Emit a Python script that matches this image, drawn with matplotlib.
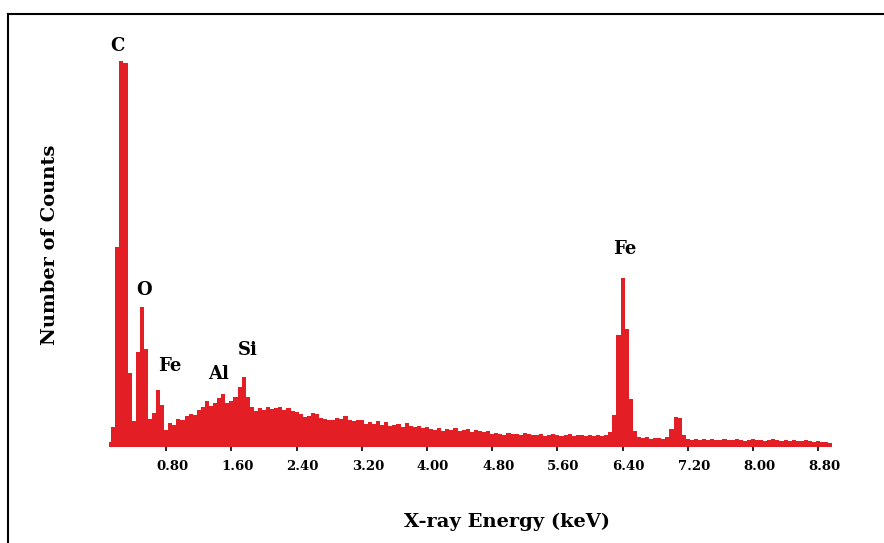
import numpy as np
import matplotlib
matplotlib.use("Agg")
import matplotlib.pyplot as plt
from matplotlib.lines import Line2D

# EDS spectrum, 0.05 keV channels starting at 0.10 keV (counts in arbitrary units)
E_START = 0.10
E_STEP = 0.05
counts = [
    5, 20, 200, 386, 384, 74, 26, 95, 140, 98,            # 0.10 - 0.55
    28, 34, 57, 42, 17, 24, 22, 28, 27, 31,               # 0.60 - 1.05
    33, 32, 37, 40, 46, 41, 44, 49, 53, 44,               # 1.10 - 1.55
    46, 50, 60, 70, 50, 40, 36, 39, 37, 40,               # 1.60 - 2.05
    38, 39, 40, 37, 39, 36, 35, 33, 30, 31,               # 2.10 - 2.55
    34, 33, 29, 28, 27, 27, 29, 28, 31, 27,               # 2.60 - 3.05
    26, 27, 27, 23, 25, 23, 26, 22, 25, 21,               # 3.10 - 3.55
    22, 23, 20, 24, 21, 20, 21, 19, 20, 18,               # 3.60 - 4.05
    17, 19, 16, 18, 17, 19, 16, 17, 18, 15,               # 4.10 - 4.55
    17, 16, 15, 16, 13, 14, 13, 12, 14, 13,               # 4.60 - 5.05
    13, 12, 14, 13, 12, 12, 13, 11, 12, 13,               # 5.10 - 5.55
    12, 11, 12, 13, 11, 12, 12, 11, 12, 11,               # 5.60 - 6.05
    12, 11, 12, 15, 32, 112, 169, 118, 48, 16,            # 6.10 - 6.55
    10, 9, 10, 8, 9, 9, 8, 10, 18, 30,                    # 6.60 - 7.05
    29, 12, 8, 7, 8, 7, 8, 7, 8, 7,                       # 7.10 - 7.55
    7, 8, 7, 7, 8, 7, 6, 7, 8, 7,                         # 7.60 - 8.05
    7, 6, 7, 8, 7, 6, 7, 6, 7, 6,                         # 8.10 - 8.55
    6, 7, 6, 5, 6, 5, 5, 4,                               # 8.60 - 8.95
]
edges = E_START - E_STEP / 2 + E_STEP * np.arange(len(counts) + 1)

tick_pos = [0.80, 1.60, 2.40, 3.20, 4.00, 4.80, 5.60, 6.40, 7.20, 8.00, 8.80]
tick_lab = ["0.80", "1.60", "2.40", "3.20", "4.00", "4.80",
            "5.60", "6.40", "7.20", "8.00", "8.80"]

# peak labels: (text, energy, count)
peaks = [("C", 0.20, 401), ("O", 0.53, 157), ("Fe", 0.85, 81),
         ("Al", 1.44, 73), ("Si", 1.80, 97), ("Fe", 6.43, 198)]

RED = "#e31e24"
SERIF = ["DejaVu Serif"]

fig = plt.figure(figsize=(8.84, 5.43), dpi=100)
ax = fig.add_axes([0.1235, 0.1768, 0.8205, 0.7366])

ax.stairs(counts, edges, fill=True, color=RED, linewidth=0.6)
ax.set_xlim(0.10, 9.00)
ax.set_ylim(0, 400)

for s in ax.spines.values():
    s.set_visible(False)
ax.set_yticks([])
ax.set_xticks(tick_pos)
ax.set_xticklabels([])
ax.tick_params(axis="x", length=3, width=1.2, color="black", direction="out")

for x, lab in zip(tick_pos, tick_lab):
    ax.annotate(lab, (x, 0), xycoords="data", xytext=(6, -20),
                textcoords="offset pixels", ha="center", va="center",
                fontsize=9.5, fontweight="bold", family=SERIF)

for txt, x, y in peaks:
    ax.text(x, y, txt, ha="center", va="center", fontsize=13,
            fontweight="bold", family=SERIF, clip_on=False)

fig.text(50 / 884, 1 - 245 / 543, "Number of Counts", rotation=90,
         ha="center", va="center", fontsize=14, fontweight="bold", family=SERIF)
fig.text(507 / 884, 1 - 522 / 543, "X-ray Energy (keV)", ha="center",
         va="center", fontsize=14, fontweight="bold", family=SERIF)

# scanned frame: left and top edges only
fig.add_artist(Line2D([8 / 884, 8 / 884], [0, 1 - 14 / 543],
                      transform=fig.transFigure, color="black", lw=1.5))
fig.add_artist(Line2D([8 / 884, 1], [1 - 14 / 543, 1 - 14 / 543],
                      transform=fig.transFigure, color="black", lw=1.5))

fig.savefig("out.png", dpi=100)
